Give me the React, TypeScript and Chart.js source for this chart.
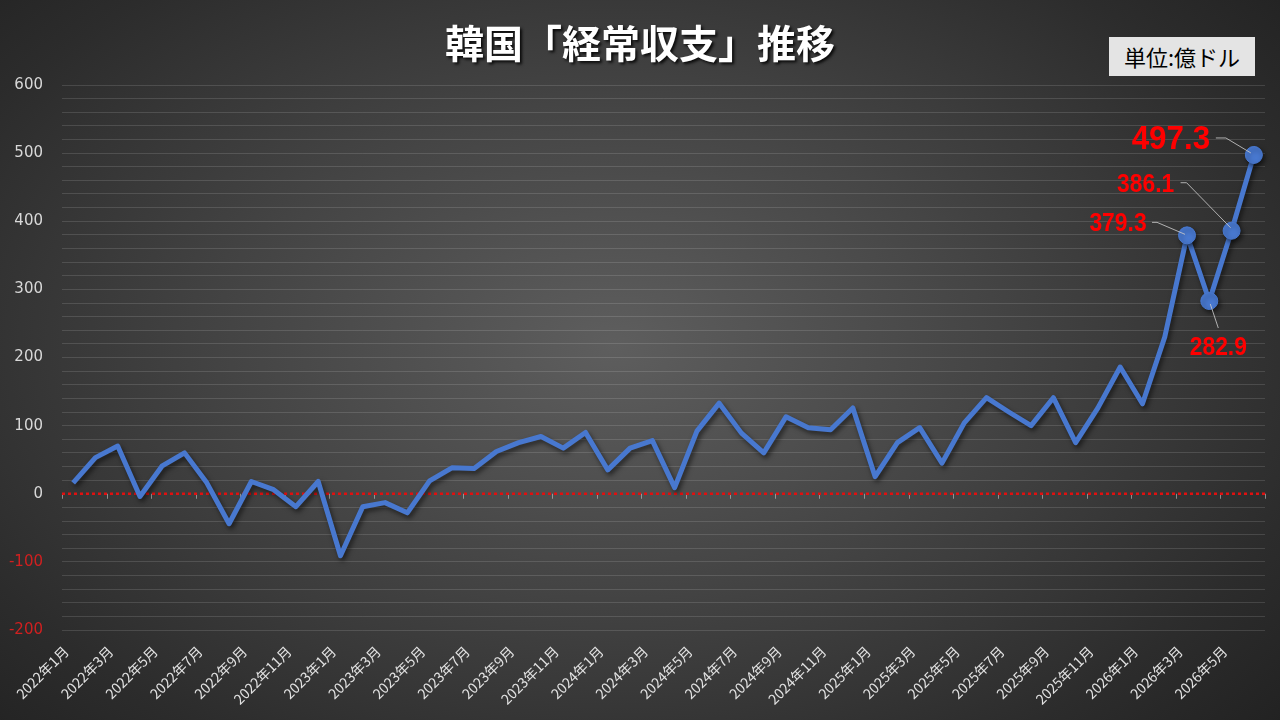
import React, { useEffect, useRef } from "react";
import { Chart, registerables } from "chart.js";

Chart.register(...registerables);

// ---- data ----
const years = [2022, 2023, 2024, 2025, 2026];
const categories: string[] = [];
for (const y of years) {
  for (let m = 1; m <= 12; m++) {
    if (y === 2026 && m > 6) break;
    categories.push(`${y}年${m}月`);
  }
}

const balance2022 = [16, 53, 70, -4, 41, 60, 16, -44, 18, 6, -19, 18];
const balance2023 = [-91, -19, -13, -28, 19, 38, 37, 62, 75, 84, 67, 90];
const balance2024 = [35, 67, 78, 9, 92, 133, 89, 60, 113, 97, 94, 126];
const balance2025 = [25, 75, 97, 45, 104, 141, 120, 100, 141, 75, 126, 186];
const balance2026 = [132, 230, 379.3, 282.9, 386.1, 497.3];
const values = [...balance2022, ...balance2023, ...balance2024, ...balance2025, ...balance2026];

const yTicksMin = -200;
const yTicksMax = 600;
const labeledIndices = [50, 51, 52, 53];

const TITLE = "韓国「経常収支」推移";
const UNIT = "単位:億ドル";

// ---- style ----
const LINE_COLOR = "#4878cf";
const FONT_JP = "'Noto Sans CJK JP', 'Noto Sans', sans-serif";

const labelStyles: Record<number, { dx: number; dy: number; size: number; sx: number; leader: [number, number][] }> = {
  50: { dx: -69, dy: -13, size: 26, sx: 0.88, leader: [[-35, -13], [-30, -13], [-2, -1]] },
  51: { dx: 9, dy: 46, size: 26, sx: 0.88, leader: [[1, 3], [9, 27]] },
  52: { dx: -86, dy: -47, size: 26, sx: 0.88, leader: [[-51, -48], [-45, -48], [-1, -3]] },
  53: { dx: -83, dy: -16, size: 33, sx: 0.95, leader: [[-38, -17], [-28, -17], [-3, -2]] },
};

const overlayPlugin = {
  id: "overlay",
  beforeDatasetsDraw(chart: any) {
    const ctx = chart.ctx;
    const { left, right } = chart.chartArea;
    const y0 = chart.scales.y.getPixelForValue(0);
    const n = chart.data.labels.length;
    const step = (right - left) / n;
    ctx.save();
    ctx.strokeStyle = "rgba(200,200,200,0.6)";
    ctx.lineWidth = 1;
    for (let k = 0; k <= n; k += 2) {
      const x = Math.round(left + k * step) + 0.5;
      ctx.beginPath();
      ctx.moveTo(x, y0);
      ctx.lineTo(x, y0 + 5);
      ctx.stroke();
    }
    ctx.strokeStyle = "#e01010";
    ctx.lineWidth = 2.5;
    ctx.setLineDash([3, 3]);
    ctx.beginPath();
    ctx.moveTo(left, y0);
    ctx.lineTo(right, y0);
    ctx.stroke();
    ctx.restore();
    ctx.save();
    ctx.shadowColor = "rgba(0,0,0,0.55)";
    ctx.shadowBlur = 5;
    ctx.shadowOffsetX = 2;
    ctx.shadowOffsetY = 3;
  },
  afterDatasetsDraw(chart: any) {
    const ctx = chart.ctx;
    ctx.restore();
    const meta = chart.getDatasetMeta(0);
    ctx.save();
    for (const idx of labeledIndices) {
      const pt = meta.data[idx];
      const st = labelStyles[idx];
      if (!pt || !st) continue;
      const px = pt.x;
      const py = pt.y;
      ctx.strokeStyle = "rgba(200,200,200,0.85)";
      ctx.lineWidth = 1;
      ctx.beginPath();
      st.leader.forEach(([lx, ly], i) => {
        if (i === 0) ctx.moveTo(px + lx, py + ly);
        else ctx.lineTo(px + lx, py + ly);
      });
      ctx.stroke();
      ctx.save();
      ctx.translate(px + st.dx, py + st.dy);
      ctx.scale(st.sx, 1);
      ctx.fillStyle = "#ff0000";
      ctx.font = `bold ${st.size}px 'Liberation Sans', Arial, sans-serif`;
      ctx.textAlign = "center";
      ctx.textBaseline = "middle";
      ctx.fillText(values[idx].toFixed(1), 0, 1);
      ctx.restore();
    }
    ctx.restore();
  },
};

export default function App() {
  const canvasRef = useRef<HTMLCanvasElement | null>(null);

  useEffect(() => {
    if (!canvasRef.current) return;
    const chart = new Chart(canvasRef.current, {
      type: "line",
      data: {
        labels: categories,
        datasets: [
          {
            data: values,
            borderColor: LINE_COLOR,
            backgroundColor: LINE_COLOR,
            borderWidth: 5,
            tension: 0,
            borderJoinStyle: "round",
            pointRadius: (c: any) => (labeledIndices.includes(c.dataIndex) ? 8.5 : 0),
            pointHoverRadius: 0,
            pointBackgroundColor: LINE_COLOR,
            pointBorderColor: LINE_COLOR,
            pointBorderWidth: 1,
          } as any,
        ],
      },
      options: {
        animation: false,
        responsive: true,
        maintainAspectRatio: false,
        events: [],
        layout: { padding: { top: 85, right: 15, left: 0, bottom: 0 } },
        plugins: { legend: { display: false }, tooltip: { enabled: false }, title: { display: false } },
        scales: {
          x: {
            type: "category",
            offset: true,
            grid: { display: false, drawTicks: false },
            border: { display: false },
            ticks: {
              autoSkip: false,
              maxRotation: 45,
              minRotation: 45,
              padding: 13,
              labelOffset: -7,
              color: "#e2e2e2",
              font: { family: FONT_JP, size: 14 },
              callback: (_v: any, i: number) => (i % 2 === 0 ? categories[i] : ""),
            },
            afterFit: (s: any) => {
              s.height = 90;
            },
          },
          y: {
            min: yTicksMin,
            max: yTicksMax,
            grid: {
              color: (c: any) => (c.tick && c.tick.value === 0 ? "rgba(0,0,0,0)" : "rgba(255,255,255,0.13)"),
              drawTicks: false,
              lineWidth: 1,
            },
            border: { display: false },
            ticks: {
              stepSize: 20,
              maxTicksLimit: 100,
              autoSkip: false,
              padding: 19,
              color: (c: any) => (c.tick && c.tick.value < 0 ? "#d02020" : "#d8d8d8"),
              font: { family: "'DejaVu Sans', 'Liberation Sans', sans-serif", size: 15 },
              callback: (v: any) => (Number(v) % 100 === 0 ? String(v) : ""),
            },
            afterFit: (s: any) => {
              s.width = 62;
            },
          },
        },
      } as any,
      plugins: [overlayPlugin],
    });
    return () => chart.destroy();
  }, []);

  return (
    <div
      style={{
        position: "fixed",
        left: 0,
        top: 0,
        width: 1280,
        height: 720,
        background: "radial-gradient(ellipse 75% 85% at 48% 48%, #5e5e5e 0%, #444444 40%, #2c2c2c 75%, #1e1e1e 100%)",
        overflow: "hidden",
      }}
    >
      <div
        style={{
          position: "absolute",
          left: 0,
          width: 1280,
          top: 14,
          textAlign: "center",
          color: "#ffffff",
          fontFamily: FONT_JP,
          fontWeight: 700,
          fontSize: 39,
          lineHeight: "54px",
          textShadow: "2px 2px 3px rgba(0,0,0,0.85)",
        }}
      >
        {TITLE}
      </div>
      <div
        style={{
          position: "absolute",
          left: 1109,
          top: 37,
          width: 146,
          height: 39,
          background: "#e4e4e4",
          color: "#000",
          fontFamily: FONT_JP,
          fontSize: 22,
          lineHeight: "39px",
          textAlign: "center",
          whiteSpace: "nowrap",
        }}
      >
        {UNIT}
      </div>
      <canvas ref={canvasRef} style={{ position: "absolute", left: 0, top: 0 }} />
    </div>
  );
}
